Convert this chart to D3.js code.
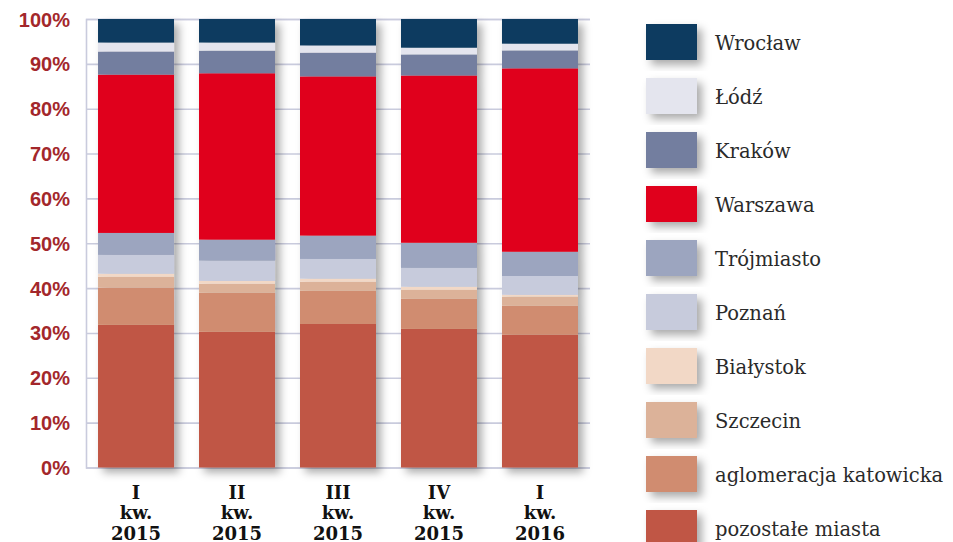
<!DOCTYPE html>
<html><head><meta charset="utf-8">
<script src="https://cdn.jsdelivr.net/npm/d3@7"></script>
<style>body{margin:0;background:#fff}svg{display:block}</style>
</head><body><svg id="chart" width="953" height="542"></svg>
<script>
// Quarter labels (three lines each)
const quarters = [["I","kw.","2015"],["II","kw.","2015"],["III","kw.","2015"],["IV","kw.","2015"],["I","kw.","2016"]];
// Stack order, bottom to top
const cities = ["pozostałe miasta","aglomeracja katowicka","Szczecin","Białystok","Poznań","Trójmiasto","Warszawa","Kraków","Łódź","Wrocław"];
const cityColors = ["#c05644","#d08c6f","#dcb299","#f2d8c6","#c7cbdc","#9ca5bf","#e0061e","#737e9f","#e4e5ee","#0a3a60"];
// Share of each city per quarter, %
const pozostale = [31.8, 30.25, 32.0, 30.9, 29.6];
const katowicka = [8.3, 8.7, 7.4, 6.7, 6.45];
const szczecin  = [2.4, 2.0, 2.0, 2.0, 2.05];
const bialystok = [0.7, 0.65, 0.7, 0.7, 0.4];
const poznan    = [4.2, 4.5, 4.4, 4.2, 4.2];
const trojmiasto= [4.9, 4.7, 5.2, 5.6, 5.4];
const warszawa  = [35.3, 37.1, 35.5, 37.3, 40.9];
const krakow    = [5.15, 5.05, 5.3, 4.7, 4.0];
const lodz      = [2.0, 1.8, 1.6, 1.5, 1.5];
const wroclaw   = [5.25, 5.25, 5.9, 6.4, 5.5];
const yTicks = [0,10,20,30,40,50,60,70,80,90,100];

const series = [pozostale, katowicka, szczecin, bialystok, poznan, trojmiasto, warszawa, krakow, lodz, wroclaw];
const rows = quarters.map((q, i) => {
  const r = {idx: i};
  cities.forEach((c, k) => r[c] = series[k][i]);
  return r;
});

const svg = d3.select("#chart");
const defs = svg.append("defs");
const f = defs.append("filter").attr("id","shadow").attr("x","-20%").attr("y","-20%").attr("width","150%").attr("height","150%");
f.append("feDropShadow").attr("dx",5).attr("dy",5).attr("stdDeviation",4).attr("flood-color","#000").attr("flood-opacity",0.33);

const plotLeft = 86, plotRight = 590, plotTop = 19, plotBottom = 467.5;
const x = d3.scaleBand().domain(d3.range(quarters.length)).range([plotLeft, plotRight]).paddingInner(0.2475).paddingOuter(0.119);
const y = d3.scaleLinear().domain([0,100]).range([plotBottom, plotTop]);
const color = d3.scaleOrdinal().domain(cities).range(cityColors);

// Grid + y axis
const gy = svg.append("g").attr("transform", `translate(${plotLeft},0)`)
  .call(d3.axisLeft(y).tickValues(yTicks).tickSize(-(plotRight-plotLeft)).tickPadding(16).tickFormat(d => d + "%"));
gy.select(".domain").attr("stroke","#c9cbdd").attr("stroke-width",1.6);
gy.selectAll(".tick line").attr("stroke","#c9cbdd").attr("stroke-width",1.6);
gy.selectAll(".tick text").attr("fill","#a3272b").attr("font-family","'Liberation Sans', Arial, sans-serif")
  .attr("font-weight","bold").attr("font-size",20).attr("dy","0.35em");

// Bars
const stacked = d3.stack().keys(cities)(rows);
const barG = svg.append("g");
const cols = barG.selectAll("g.col").data(rows).join("g").attr("class","col").attr("filter","url(#shadow)");
cols.selectAll("rect").data(r => stacked.map(s => ({key: s.key, v: s[r.idx], i: r.idx}))).join("rect")
  .attr("x", d => x(d.i)).attr("width", x.bandwidth())
  .attr("y", d => y(d.v[1])).attr("height", d => y(d.v[0]) - y(d.v[1]))
  .attr("fill", d => color(d.key));

// X axis labels
const gx = svg.append("g").attr("transform", `translate(0,${plotBottom})`)
  .call(d3.axisBottom(x).tickSize(0).tickFormat(""));
gx.select(".domain").remove();
gx.selectAll(".tick text").remove();
gx.selectAll(".tick").append("text")
  .attr("text-anchor","middle").attr("fill","#111")
  .attr("font-family","'DejaVu Serif', serif").attr("font-weight","bold").attr("font-size",18)
  .selectAll("tspan").data(i => quarters[i]).join("tspan")
  .attr("x",0).attr("y",(d,j) => 31 + j*20.5).text(d => d);

// Legend, top to bottom
const legendOrder = cities.slice().reverse();
const lg = svg.append("g").selectAll("g").data(legendOrder).join("g")
  .attr("transform", (d,i) => `translate(646,${24 + i*54})`);
lg.append("rect").attr("width",51).attr("height",36).attr("fill", d => color(d)).attr("filter","url(#shadow)");
lg.append("text").attr("x",69).attr("y",26).text(d => d)
  .attr("font-family","'DejaVu Serif', serif").attr("font-size",19.5).attr("fill","#2a2a2a");
</script>
</body></html>
